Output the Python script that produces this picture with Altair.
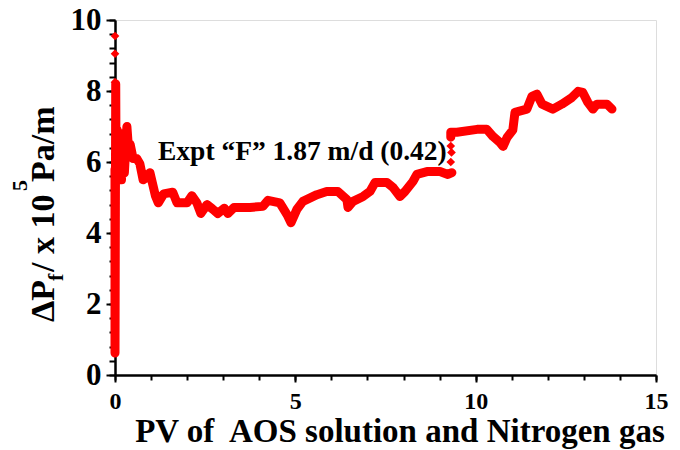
import altair as alt
import pandas as pd

# ---- data ----
pv_line = [0.00, 0.00, 0.02, 0.03, 0.06, 0.10, 0.14, 0.18, 0.22, 0.26, 0.33, 0.38, 0.42, 0.50,
           0.60, 0.69, 0.78, 0.85, 0.97, 1.05, 1.12, 1.20, 1.35, 1.60, 1.72, 2.00, 2.13, 2.27,
           2.38, 2.55, 2.70, 2.85, 3.03, 3.13, 3.30, 3.74, 4.10, 4.24, 4.57, 4.77, 4.88, 5.04,
           5.21, 5.60, 5.87, 6.18, 6.43, 6.46, 6.60, 6.88, 7.07, 7.21, 7.54, 7.71, 7.90, 8.04,
           8.26, 8.37, 8.65, 9.01, 9.23, 9.34,
           9.31, 9.31, 9.48, 10.04, 10.31, 10.48, 10.67, 10.76, 10.87, 11.03, 11.09, 11.42,
           11.56, 11.70, 11.84, 12.14, 12.39, 12.67, 12.84, 12.97, 13.11, 13.25, 13.36, 13.64,
           13.78]
dp_line = [5.80, 0.62, 8.20, 5.50, 6.90, 5.60, 6.80, 5.50, 6.60, 5.70, 7.00, 6.30, 6.50, 6.10,
           6.10, 5.95, 5.50, 5.55, 5.70, 5.35, 5.05, 4.85, 5.10, 5.15, 4.85, 4.85, 5.05, 4.85,
           4.55, 4.80, 4.68, 4.55, 4.70, 4.55, 4.72, 4.72, 4.75, 4.92, 4.85, 4.52, 4.29, 4.66,
           4.89, 5.08, 5.17, 5.17, 4.94, 4.72, 4.89, 5.03, 5.17, 5.42, 5.42, 5.28, 5.03, 5.17,
           5.45, 5.65, 5.73, 5.73, 5.65, 5.70,
           6.70, 6.84, 6.84, 6.92, 6.92, 6.72, 6.55, 6.44, 6.69, 6.90, 7.40, 7.49,
           7.85, 7.91, 7.63, 7.49, 7.63, 7.82, 7.99, 7.96, 7.68, 7.49, 7.63, 7.63,
           7.49]
seg_line = [1] * 62 + [2] * 25

pv_pts = [0.00, 0.00, 0.00, 9.31, 9.33, 9.31]
dp_pts = [9.55, 9.05, 8.25, 6.00, 6.27, 6.45]

x_major = [0, 5, 10, 15]
x_minor = list(range(0, 16))
y_major = [0, 2, 4, 6, 8, 10]
y_minor = [round(0.4 * k, 1) for k in range(26)]

annotation = "Expt \u201cF\u201d 1.87 m/d (0.42)"
x_title = "PV of\u00a0 AOS solution and Nitrogen gas"
y_title_parts = ["\u0394P", "f", "/ x 10", "5", "Pa/m"]

FONT = "Liberation Serif"
RED = "#ff0000"

line_df = pd.DataFrame({"pv": pv_line, "dp": dp_line, "seg": seg_line})
pts_df = pd.DataFrame({"pv": pv_pts, "dp": dp_pts})

xscale = alt.Scale(domain=[0, 15], nice=False, zero=False)
yscale = alt.Scale(domain=[0, 10], nice=False, zero=False)

common = dict(grid=False, tickColor="black", tickWidth=2, title=None,
              labelFont=FONT, labelFontWeight="bold", labelColor="black",
              labelOverlap=False, labelFlush=False)

x_axis_major = alt.Axis(values=x_major, orient="bottom", tickSize=7, labelFontSize=24,
                        labelPadding=7, domainColor="black", domainWidth=2.5, **common)
y_axis_major = alt.Axis(values=y_major, orient="left", tickSize=9, labelFontSize=31,
                        labelPadding=5, domainColor="black", domainWidth=2.5, **common)
x_axis_minor = alt.Axis(values=x_minor, orient="bottom", tickSize=5, labels=False,
                        domain=False, grid=False, tickColor="black", tickWidth=2, title=None)
y_axis_minor = alt.Axis(values=y_minor, orient="left", tickSize=6, labels=False,
                        domain=False, grid=False, tickColor="black", tickWidth=2, title=None)

line = alt.Chart(line_df).mark_line(
    color=RED, strokeWidth=9, strokeJoin="round", strokeCap="round"
).encode(
    x=alt.X("pv:Q", scale=xscale, axis=x_axis_major),
    y=alt.Y("dp:Q", scale=yscale, axis=y_axis_major),
    detail="seg:N",
)

pts = alt.Chart(pts_df).mark_point(
    shape="diamond", filled=True, color=RED, size=75, opacity=1
).encode(
    x=alt.X("pv:Q", scale=xscale, axis=x_axis_minor),
    y=alt.Y("dp:Q", scale=yscale, axis=y_axis_minor),
)


def text_layer(txt, x, y, size, angle=0, align="left", baseline="middle"):
    kw = dict(font=FONT, fontSize=size, fontWeight="bold", color="black",
              align=align, baseline=baseline)
    if angle:
        kw["angle"] = angle
    return alt.Chart(pd.DataFrame({"t": [txt]})).mark_text(**kw).encode(
        text="t:N", x=alt.value(x), y=alt.value(y)
    )


ann = text_layer(annotation, 43, 140, 27.5, baseline="alphabetic")
xt = text_layer(x_title, 285, 412, 33, align="center")

yt_layers = [
    text_layer(y_title_parts[0], -71, 302, 34, angle=270),
    text_layer(y_title_parts[1], -59, 261, 22, angle=270),
    text_layer(y_title_parts[2], -71, 252, 34, angle=270),
    text_layer(y_title_parts[3], -95, 171, 22, angle=270),
    text_layer(y_title_parts[4], -71, 162, 34, angle=270),
]

chart = alt.layer(line, pts, ann, xt, *yt_layers).resolve_axis(
    x="independent", y="independent"
).properties(
    width=541, height=355,
    autosize=alt.AutoSizeParams(type="none"),
    padding={"left": 115, "top": 20, "right": 24, "bottom": 75},
).configure_view(stroke=None).configure(background="white")

chart.save("out.html", embed_options={"renderer": "svg", "actions": False})
